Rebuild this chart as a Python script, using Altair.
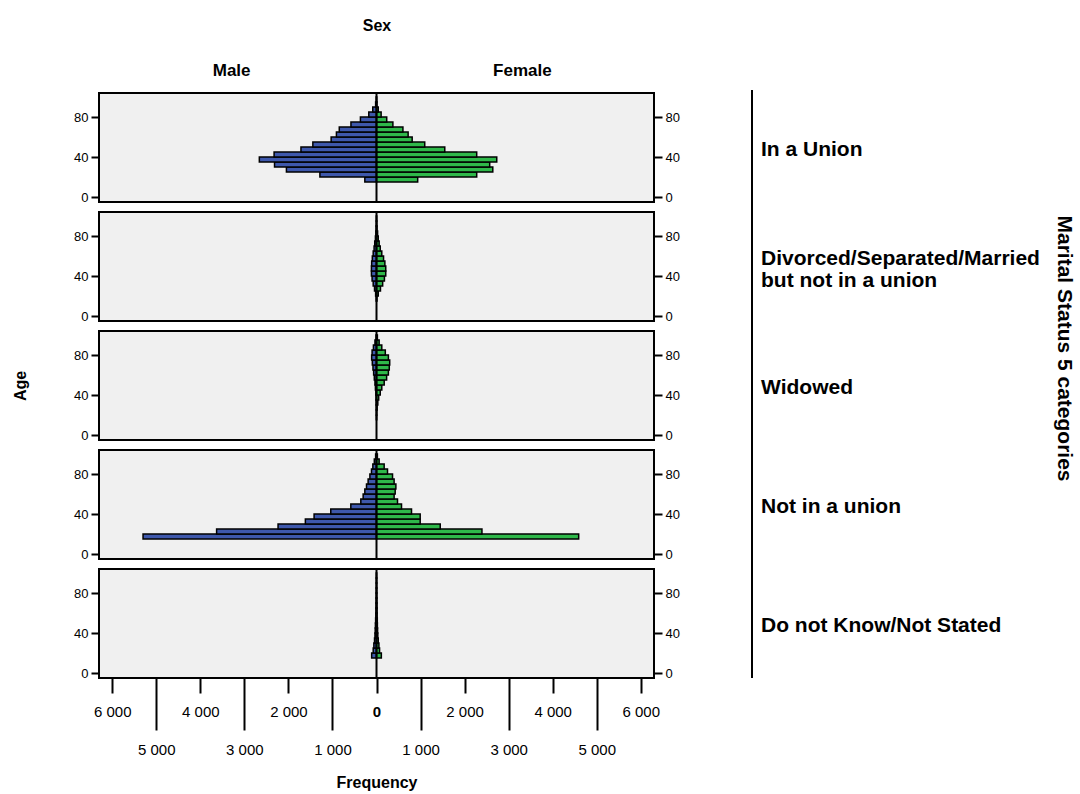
import altair as alt
import pandas as pd

FONT = "Liberation Sans"
BLUE = "#3E58AC"
GREEN = "#2FB84A"

statuses = [
    "In a Union",
    "Divorced/Separated/Married but not in a union",
    "Widowed",
    "Not in a union",
    "Do not Know/Not Stated",
]
row_labels = [
    ["In a Union"],
    ["Divorced/Separated/Married", "but not in a union"],
    ["Widowed"],
    ["Not in a union"],
    ["Do not Know/Not Stated"],
]
sexes = ["Male", "Female"]

# lower edge of each 5-year age band
ages = [15, 20, 25, 30, 35, 40, 45, 50, 55, 60, 65, 70, 75, 80, 85, 90, 95]

union_male = [265, 1285, 2045, 2315, 2660, 2325, 1715, 1445, 1030, 910, 845, 580, 365, 175, 85, 20, 5]
union_female = [935, 2275, 2640, 2570, 2730, 2275, 1550, 1095, 810, 718, 600, 372, 232, 105, 40, 10, 3]

divorced_male = [5, 20, 45, 75, 100, 115, 115, 110, 95, 75, 55, 40, 25, 15, 8, 3, 1]
divorced_female = [10, 40, 90, 140, 180, 210, 210, 190, 160, 120, 85, 60, 40, 25, 12, 5, 2]

widowed_male = [0, 1, 2, 5, 10, 15, 25, 35, 50, 65, 80, 95, 110, 100, 70, 35, 10]
widowed_female = [2, 5, 15, 30, 50, 85, 120, 175, 230, 270, 290, 300, 270, 200, 120, 60, 20]

notunion_male = [5300, 3630, 2235, 1615, 1417, 1038, 583, 356, 303, 265, 227, 190, 150, 114, 83, 50, 20]
notunion_female = [4590, 2394, 1447, 992, 992, 795, 568, 477, 400, 424, 440, 400, 364, 250, 174, 60, 20]

dk_male = [110, 75, 60, 45, 35, 30, 25, 20, 15, 12, 10, 8, 6, 5, 3, 2, 1]
dk_female = [110, 70, 55, 40, 30, 25, 20, 18, 14, 12, 10, 8, 6, 5, 3, 2, 1]

even_ticks = [-6000, -4000, -2000, 0, 2000, 4000, 6000]
odd_ticks = [-5000, -3000, -1000, 1000, 3000, 5000]
age_ticks = [0, 40, 80]
sex_label_pos = [-3300, 3300]

series = {
    statuses[0]: (union_male, union_female),
    statuses[1]: (divorced_male, divorced_female),
    statuses[2]: (widowed_male, widowed_female),
    statuses[3]: (notunion_male, notunion_female),
    statuses[4]: (dk_male, dk_female),
}

rows = []
for st in statuses:
    m, f = series[st]
    for a, mv, fv in zip(ages, m, f):
        rows.append(dict(status=st, sex="Male", age=a, age_end=a + 5, lo=-mv, hi=0))
        rows.append(dict(status=st, sex="Female", age=a, age_end=a + 5, lo=0, hi=fv))
df = pd.DataFrame(rows)

W, H = 555, 109
TICK_FS = 15
TITLE_FS = 16
SEX_FS = 17
LABEL_FS = 21

xscale = alt.Scale(domain=[-6300, 6300], nice=False, zero=False)
yscale = alt.Scale(domain=[-5, 104], nice=False, zero=False)
fmt = "replace(format(abs(datum.value), ','), ',', ' ')"
bold0 = {"condition": {"test": "datum.value === 0", "value": "bold"}, "value": "normal"}


def make_panel(i, st):
    d = df[df.status == st]
    one = pd.DataFrame({"status": [st]})
    first, last, mid = i == 0, i == len(statuses) - 1, i == 2

    bar_x_axis = alt.Axis(
        orient="bottom", values=even_ticks, labelExpr=fmt, tickSize=15, tickWidth=2,
        labelPadding=11, labelFontSize=TICK_FS, labelFontWeight=bold0,
        domain=False, grid=False, title=None) if last else None

    if last:
        carrier_x_axis = alt.Axis(
            orient="bottom", values=odd_ticks, labelExpr=fmt, tickSize=52, tickWidth=2,
            labelPadding=12, labelFontSize=TICK_FS, domain=False, grid=False,
            title="Frequency", titleFontSize=TITLE_FS, titleFontWeight="bold",
            titlePadding=17)
    elif first:
        carrier_x_axis = alt.Axis(
            orient="top", values=sex_label_pos,
            labelExpr="datum.value < 0 ? 'Male' : 'Female'",
            ticks=False, domain=False, grid=False, labelFontSize=SEX_FS,
            labelFontWeight="bold", labelPadding=14, title="Sex",
            titleFontSize=TITLE_FS, titleFontWeight="bold", titlePadding=28)
    else:
        carrier_x_axis = None

    left_axis = alt.Axis(
        values=age_ticks, orient="left", tickSize=8, tickWidth=2,
        labelFontSize=13, labelPadding=3, domain=False, grid=False,
        title="Age" if mid else None, titleFontSize=TITLE_FS,
        titleFontWeight="bold", titlePadding=45)
    right_axis = alt.Axis(
        values=age_ticks, orient="right", tickSize=8, tickWidth=2,
        labelFontSize=13, labelPadding=3, domain=False, grid=False, title=None)

    bars = alt.Chart(d).mark_bar(stroke="black", strokeWidth=1.5).encode(
        x=alt.X("lo:Q", scale=xscale, axis=bar_x_axis),
        x2="hi:Q",
        y=alt.Y("age:Q", scale=yscale, axis=left_axis),
        y2="age_end:Q",
        color=alt.Color("sex:N", scale=alt.Scale(domain=sexes, range=[BLUE, GREEN]), legend=None),
    )
    carrier = alt.Chart(d).mark_point(opacity=0, size=1).encode(
        x=alt.X("lo:Q", scale=xscale, axis=carrier_x_axis),
        y=alt.Y("age:Q", scale=yscale, axis=right_axis),
    )
    center = alt.Chart(one).mark_rule(color="black", strokeWidth=2).encode(
        x=alt.XDatum(0, axis=None))
    sep = alt.Chart(one).mark_rule(color="black", strokeWidth=2).encode(
        x=alt.value(W + 98),
        y=alt.value(-3 if first else -5),
        y2=alt.value(H if last else H + 5),
    )
    n_lines = len(row_labels[i])
    label_y = H / 2 + 2 if n_lines == 1 else H / 2 - 8
    label = alt.Chart(one).mark_text(
        align="left", baseline="middle", font=FONT, fontSize=LABEL_FS,
        fontWeight="bold", lineHeight=22, color="black",
    ).encode(x=alt.value(W + 107), y=alt.value(label_y), text=alt.value(row_labels[i]))

    return alt.layer(bars, carrier, center, sep, label).resolve_axis(
        x="independent", y="independent"
    ).properties(width=W, height=H)


panels = [make_panel(i, st) for i, st in enumerate(statuses)]

chart = alt.vconcat(*panels, spacing=10, bounds="flush").properties(
    title=alt.TitleParams(
        text="Marital Status 5 categories", orient="right", anchor="middle",
        font=FONT, fontSize=LABEL_FS, fontWeight="bold", color="black",
        offset=13, dx=-55),
    padding={"left": 11, "top": 16, "right": 5, "bottom": 5},
).configure_view(
    fill="#f0f0f0", stroke="black", strokeWidth=2
).configure_axis(
    grid=False, tickColor="black", labelColor="black", domainColor="black",
    titleColor="black", labelFont=FONT, titleFont=FONT
)

chart.save("out.html", embed_options={"renderer": "svg", "actions": False})
